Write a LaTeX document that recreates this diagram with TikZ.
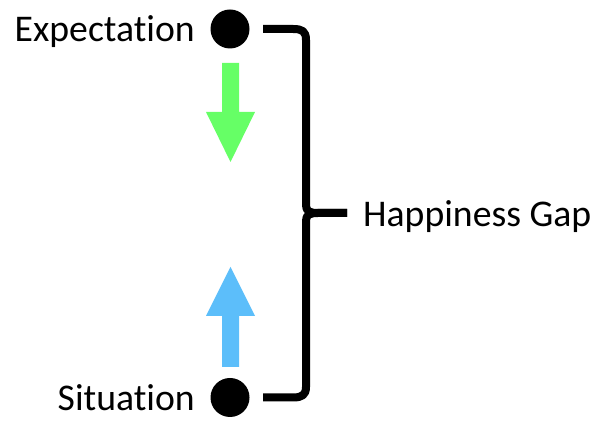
\documentclass[tikz,border=0pt]{standalone}
\usepackage{fontspec}
\setmainfont{Carlito}[Ligatures={NoCommon,NoContextual}]
\definecolor{arrgreen}{RGB}{102,255,102}
\definecolor{arrblue}{RGB}{92,190,250}
\begin{document}
\begin{tikzpicture}[x=1pt,y=1pt,
  lbl/.style={inner sep=0pt,font=\fontsize{37.7}{40}\selectfont},
  dot/.style={circle,fill=black,inner sep=0pt,minimum size=39pt},
  brace/.style={line width=8pt,line join=round}]
\useasboundingbox (0,0) rectangle (600,430);
\node[dot] (top) at (230,401) {};
\node[dot] (bot) at (230,32.5) {};
\node[lbl,anchor=base east] (exp) at (195,388) {Expectation};
\node[lbl,anchor=base east] (sit) at (195,19) {Situation};
\node[lbl,anchor=base west] (gap) at (363,203) {Happiness Gap};
\coordinate (btop) at (263,401);
\coordinate (bbot) at (263,32.5);
\coordinate (tip) at (347,217);
% green arrow down
\fill[arrgreen] (222,367) -- (239,367) -- (239,318) -- (255,318) -- (230.5,268) -- (206,318) -- (222,318) -- cycle;
% blue arrow up
\fill[arrblue] (222,63) -- (239,63) -- (239,114) -- (255,114) -- (230.5,163) -- (206,114) -- (222,114) -- cycle;
% brace
\draw[brace] (btop) -- (293,401) .. controls (302,401) and (306,399) .. (306,390) -- (306,225)
  .. controls (306,219) and (309,217) .. (318,217) -- (tip);
\draw[brace] (tip) -- (318,217) .. controls (309,217) and (306,215) .. (306,209) -- (306,43)
  .. controls (306,35) and (302,32.5) .. (293,32.5) -- (bbot);
\end{tikzpicture}
\end{document}
